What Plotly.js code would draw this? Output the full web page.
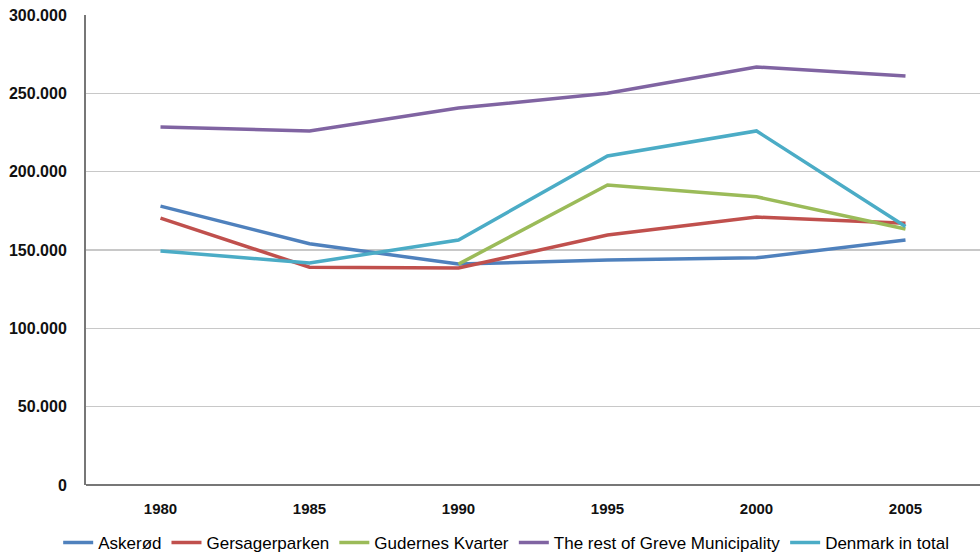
<!DOCTYPE html>
<html><head><meta charset="utf-8">
<script src="https://cdn.plot.ly/plotly-3.0.1.min.js"></script>
<style>body{margin:0;background:#fff}#c{width:980px;height:554px}</style>
</head><body><div id="c"></div>
<script>
const years = ['1980','1985','1990','1995','2000','2005'];
const askerod = [178000,154000,141000,143600,145000,156400];
const gersagerparken = [170400,139000,138500,159600,171000,167000];
const gudernes = [null,null,141000,191500,184000,163400];
const restGreve = [228500,226000,240600,250000,266800,261000];
const denmark = [149400,141700,156400,210000,226000,165000];
const names = ['Askerød','Gersagerparken','Gudernes Kvarter','The rest of Greve Municipality','Denmark in total'];
const colors = ['#4F81BD','#C0504D','#9BBB59','#8064A2','#4BACC6'];
const series = [askerod,gersagerparken,gudernes,restGreve,denmark];
const yTicks = [0,50000,100000,150000,200000,250000,300000];
const yLabels = ['0','50.000','100.000','150.000','200.000','250.000','300.000'];
const F = '"Liberation Sans",Arial,sans-serif';
const data = series.map((s,i)=>({x:years,y:s,name:names[i],type:'scatter',mode:'lines',
  line:{color:colors[i],width:3.5},connectgaps:false}));
Plotly.newPlot('c',data,{
  width:980,height:554,
  margin:{l:86,r:0,t:15,b:69},
  paper_bgcolor:'#fff',plot_bgcolor:'#fff',
  font:{family:F,size:15,color:'#000'},
  xaxis:{type:'category',range:[-0.5,5.5],showgrid:false,zeroline:false,automargin:false,
    showline:false,ticks:'',tickfont:{family:F,size:15,color:'#111',weight:'bold'},ticklabelstandoff:13},
  yaxis:{range:[0,300000],tickvals:yTicks,ticktext:yLabels,showgrid:true,gridcolor:'#c8c8c8',gridwidth:1.5,automargin:false,
    zeroline:true,zerolinecolor:'#777',zerolinewidth:2,showline:true,linecolor:'#777',linewidth:2,
    ticks:'',tickfont:{family:F,size:16,color:'#111',weight:'bold'},ticklabelstandoff:14},
  showlegend:true,
  legend:{orientation:'h',x:0.47,xanchor:'center',xref:'paper',yref:'container',y:0.02,yanchor:'middle',
    font:{family:F,size:17,color:'#000'},itemwidth:30,tracegroupgap:0},
},{displayModeBar:false,staticPlot:true});
</script></body></html>
